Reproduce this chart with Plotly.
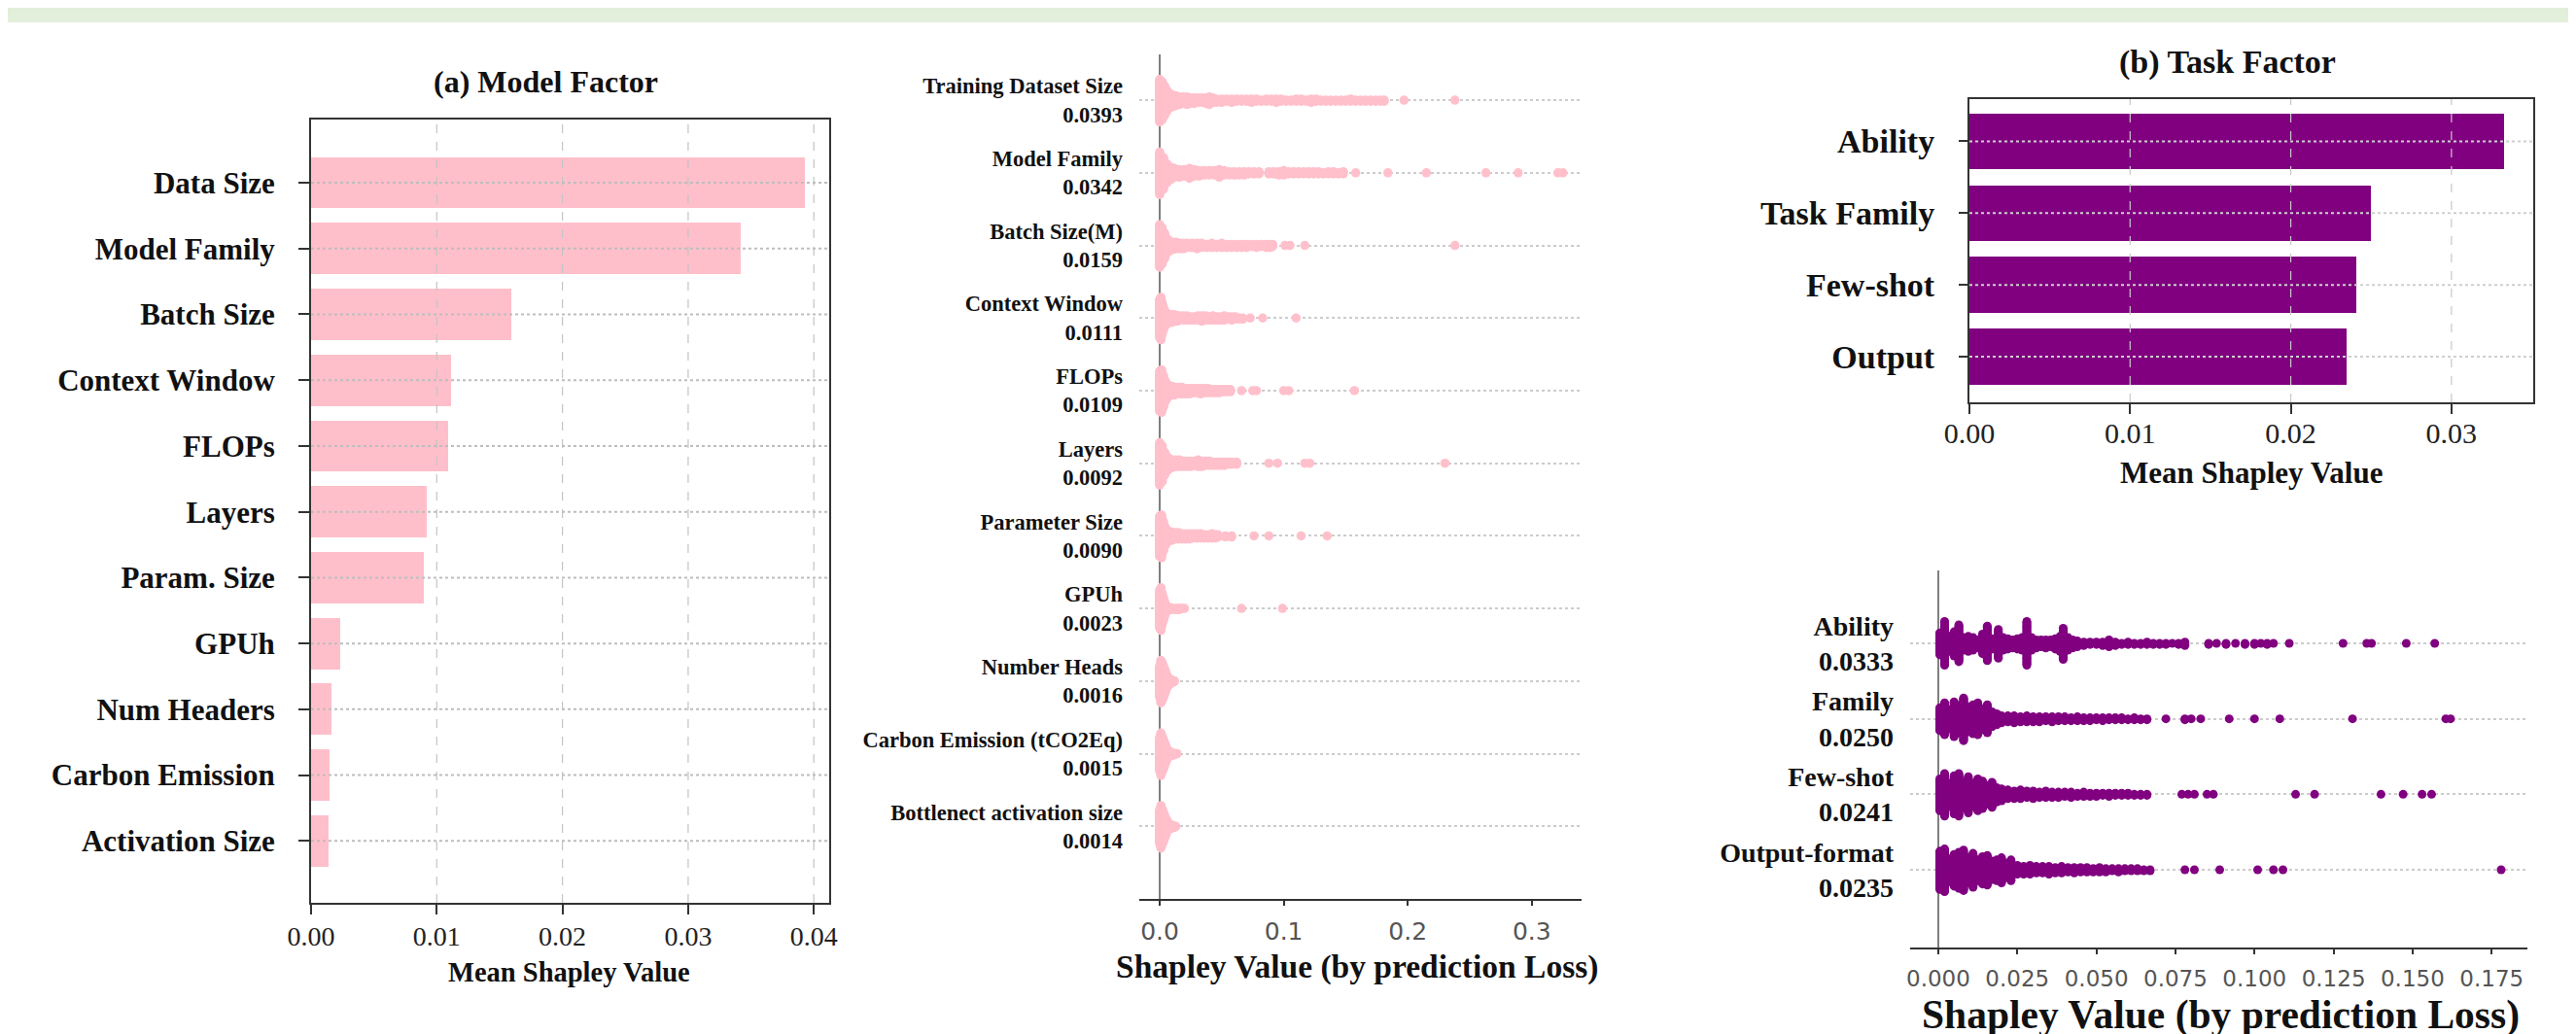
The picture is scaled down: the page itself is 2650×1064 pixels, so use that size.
import numpy as np
import plotly.graph_objects as go

W, H = 2650, 1064

# ---------------- data ----------------
# (a) Model factor - mean Shapley values
MODEL_LABELS = ["Data Size", "Model Family", "Batch Size", "Context Window", "FLOPs", "Layers",
                "Param. Size", "GPUh", "Num Headers", "Carbon Emission", "Activation Size"]
MODEL_VALUES = [0.0393, 0.0342, 0.0159, 0.0111, 0.0109, 0.0092, 0.0090, 0.0023, 0.0016, 0.0015, 0.0014]
MODEL_XTICKS = [0.00, 0.01, 0.02, 0.03, 0.04]
MODEL_XTICKTEXT = ["0.00", "0.01", "0.02", "0.03", "0.04"]

# (b) Task factor - mean Shapley values
TASK_LABELS = ["Ability", "Task Family", "Few-shot", "Output"]
TASK_VALUES = [0.0333, 0.0250, 0.0241, 0.0235]
TASK_XTICKS = [0.00, 0.01, 0.02, 0.03]
TASK_XTICKTEXT = ["0.00", "0.01", "0.02", "0.03"]

# middle beeswarm (model factors): feature name, mean value, (shapley value, number of samples)
SWM_LABELS = ["Training Dataset Size", "Model Family", "Batch Size(M)", "Context Window", "FLOPs",
              "Layers", "Parameter Size", "GPUh", "Number Heads", "Carbon Emission (tCO2Eq)",
              "Bottlenect activation size"]
SWM_MEANS = ["0.0393", "0.0342", "0.0159", "0.0111", "0.0109", "0.0092", "0.0090", "0.0023",
             "0.0016", "0.0015", "0.0014"]
SWM_XTICKS = [0.0, 0.1, 0.2, 0.3]
SWM_XTICKTEXT = ["0.0", "0.1", "0.2", "0.3"]

ROW_TDS = [(0.000, 40), (0.002, 36), (0.004, 28), (0.006, 20), (0.008, 14), (0.010, 12), (0.013, 10),
           (0.016, 8), (0.019, 7), (0.022, 8), (0.025, 6), (0.028, 6), (0.031, 5), (0.034, 5), (0.037, 6),
           (0.040, 8), (0.043, 5), (0.046, 4), (0.050, 4), (0.054, 3), (0.058, 4), (0.062, 3), (0.066, 3),
           (0.070, 3), (0.074, 4), (0.078, 3), (0.082, 2), (0.086, 3), (0.090, 3), (0.094, 4), (0.098, 3),
           (0.102, 2), (0.106, 2), (0.110, 3), (0.114, 3), (0.118, 2), (0.122, 4), (0.126, 3), (0.130, 2),
           (0.134, 2), (0.138, 2), (0.142, 2), (0.146, 2), (0.150, 2), (0.154, 3), (0.158, 2), (0.162, 2),
           (0.166, 2), (0.170, 2), (0.174, 2), (0.178, 2), (0.181, 2), (0.197, 1), (0.238, 1)]
ROW_MF = [(0.000, 40), (0.003, 30), (0.006, 18), (0.009, 12), (0.012, 9), (0.016, 8), (0.020, 7),
          (0.024, 10), (0.028, 7), (0.032, 6), (0.036, 5), (0.040, 5), (0.044, 5), (0.048, 8), (0.052, 5),
          (0.056, 4), (0.060, 4), (0.064, 4), (0.068, 4), (0.072, 3), (0.076, 3), (0.080, 3), (0.088, 3),
          (0.092, 3), (0.096, 4), (0.100, 5), (0.104, 3), (0.108, 3), (0.112, 3), (0.116, 3), (0.120, 3),
          (0.124, 3), (0.128, 3), (0.132, 2), (0.136, 3), (0.140, 3), (0.144, 2), (0.148, 3), (0.158, 1),
          (0.184, 1), (0.215, 1), (0.263, 1), (0.289, 1), (0.321, 1), (0.325, 1)]
ROW_BS = [(0.000, 40), (0.002, 34), (0.004, 24), (0.006, 14), (0.008, 10), (0.010, 8), (0.013, 7),
          (0.016, 6), (0.019, 6), (0.022, 5), (0.026, 5), (0.030, 6), (0.034, 5), (0.038, 4), (0.042, 5),
          (0.046, 4), (0.050, 5), (0.054, 4), (0.058, 4), (0.062, 4), (0.066, 4), (0.070, 4), (0.074, 3),
          (0.078, 4), (0.082, 3), (0.086, 4), (0.089, 4), (0.091, 3), (0.101, 1), (0.105, 1), (0.117, 1),
          (0.238, 1)]
ROW_CW = [(0.000, 36), (0.001, 40), (0.002, 30), (0.003, 22), (0.004, 16), (0.005, 12), (0.006, 10),
          (0.008, 8), (0.010, 8), (0.012, 7), (0.014, 6), (0.016, 5), (0.019, 5), (0.022, 5), (0.025, 4),
          (0.028, 4), (0.031, 5), (0.034, 6), (0.037, 5), (0.040, 4), (0.043, 5), (0.046, 4), (0.049, 4),
          (0.052, 5), (0.055, 3), (0.058, 4), (0.061, 3), (0.064, 2), (0.067, 2), (0.073, 1), (0.083, 1),
          (0.110, 1)]
ROW_FL = [(0.000, 38), (0.0015, 40), (0.003, 30), (0.0045, 20), (0.006, 14), (0.008, 10), (0.010, 9),
          (0.012, 8), (0.015, 7), (0.018, 7), (0.021, 6), (0.024, 6), (0.027, 5), (0.030, 5), (0.033, 6),
          (0.036, 5), (0.039, 5), (0.042, 4), (0.045, 4), (0.048, 4), (0.051, 3), (0.054, 3), (0.057, 3),
          (0.066, 1), (0.075, 1), (0.078, 1), (0.100, 1), (0.104, 1), (0.157, 1)]
ROW_LY = [(0.000, 40), (0.002, 34), (0.004, 22), (0.006, 14), (0.008, 10), (0.010, 8), (0.013, 7),
          (0.016, 7), (0.019, 6), (0.022, 6), (0.025, 6), (0.028, 5), (0.031, 7), (0.034, 6), (0.037, 5),
          (0.040, 5), (0.043, 4), (0.046, 4), (0.049, 4), (0.052, 4), (0.055, 3), (0.058, 3), (0.062, 3),
          (0.088, 1), (0.095, 1), (0.117, 1), (0.121, 1), (0.230, 1)]
ROW_PS = [(0.000, 38), (0.0015, 40), (0.003, 28), (0.0045, 18), (0.006, 12), (0.008, 9), (0.010, 8),
          (0.012, 7), (0.015, 7), (0.018, 6), (0.021, 6), (0.024, 6), (0.027, 5), (0.030, 5), (0.033, 5),
          (0.036, 4), (0.039, 4), (0.042, 5), (0.045, 4), (0.047, 3), (0.053, 2), (0.058, 2), (0.076, 1),
          (0.088, 1), (0.114, 1), (0.135, 1)]
ROW_GP = [(0.000, 36), (0.001, 40), (0.002, 30), (0.003, 22), (0.004, 14), (0.005, 8), (0.006, 5),
          (0.008, 3), (0.010, 2), (0.012, 2), (0.014, 2), (0.016, 2), (0.018, 1), (0.020, 1), (0.066, 1),
          (0.099, 1)]
ROW_NH = [(0.000, 30), (0.001, 40), (0.002, 36), (0.003, 30), (0.004, 24), (0.005, 18), (0.006, 12),
          (0.007, 8), (0.008, 6), (0.009, 4), (0.010, 3), (0.011, 2), (0.012, 1)]
ROW_CE = [(0.000, 32), (0.001, 40), (0.002, 34), (0.003, 28), (0.004, 22), (0.005, 16), (0.006, 10),
          (0.007, 7), (0.008, 5), (0.009, 4), (0.010, 3), (0.011, 2), (0.012, 2), (0.013, 1), (0.014, 1)]
ROW_BA = [(0.000, 32), (0.001, 40), (0.002, 34), (0.003, 28), (0.004, 22), (0.005, 16), (0.006, 11),
          (0.007, 7), (0.008, 5), (0.009, 4), (0.010, 3), (0.011, 2), (0.012, 2), (0.013, 1)]
SWM_ROWS = [ROW_TDS, ROW_MF, ROW_BS, ROW_CW, ROW_FL, ROW_LY, ROW_PS, ROW_GP, ROW_NH, ROW_CE, ROW_BA]

# bottom-right beeswarm (task factors)
SWT_LABELS = ["Ability", "Family", "Few-shot", "Output-format"]
SWT_MEANS = ["0.0333", "0.0250", "0.0241", "0.0235"]
SWT_XTICKS = [0.0, 0.025, 0.05, 0.075, 0.1, 0.125, 0.15, 0.175]
SWT_XTICKTEXT = ["0.000", "0.025", "0.050", "0.075", "0.100", "0.125", "0.150", "0.175"]

ROW_AB = [(0.0005, 20), (0.002, 39), (0.0035, 14), (0.005, 22), (0.0065, 33), (0.008, 12), (0.0095, 14),
          (0.011, 12), (0.0125, 8), (0.014, 18), (0.0155, 31), (0.017, 10), (0.019, 26), (0.0205, 12),
          (0.022, 10), (0.0235, 8), (0.025, 10), (0.0265, 12), (0.028, 39), (0.0295, 12), (0.031, 8),
          (0.0325, 7), (0.034, 8), (0.0355, 7), (0.037, 10), (0.0385, 14), (0.0395, 28), (0.041, 12),
          (0.0425, 8), (0.044, 6), (0.046, 4), (0.048, 3), (0.050, 3), (0.052, 4), (0.054, 7), (0.056, 4),
          (0.058, 2), (0.060, 3), (0.062, 2), (0.064, 2), (0.066, 3), (0.068, 2), (0.070, 2), (0.072, 2),
          (0.074, 1), (0.076, 2), (0.078, 4), (0.0855, 2), (0.088, 1), (0.091, 2), (0.094, 1), (0.097, 2),
          (0.100, 2), (0.102, 1), (0.104, 2), (0.106, 1), (0.111, 1), (0.128, 1), (0.1355, 1), (0.137, 1),
          (0.148, 1), (0.157, 1)]
ROW_FA = [(0.0005, 24), (0.002, 33), (0.0035, 20), (0.005, 36), (0.0065, 28), (0.008, 44), (0.0095, 26),
          (0.011, 30), (0.0125, 33), (0.014, 22), (0.0155, 29), (0.017, 16), (0.0185, 12), (0.020, 8),
          (0.022, 7), (0.024, 8), (0.026, 6), (0.028, 7), (0.030, 6), (0.032, 6), (0.034, 5), (0.036, 6),
          (0.038, 5), (0.040, 5), (0.042, 4), (0.044, 5), (0.046, 4), (0.048, 4), (0.050, 3), (0.052, 4),
          (0.054, 3), (0.056, 3), (0.058, 3), (0.060, 2), (0.062, 3), (0.064, 2), (0.066, 2), (0.072, 1),
          (0.078, 2), (0.080, 1), (0.083, 1), (0.092, 1), (0.100, 1), (0.108, 1), (0.131, 1), (0.1605, 1),
          (0.162, 1)]
ROW_FS = [(0.0005, 30), (0.002, 40), (0.0035, 22), (0.005, 36), (0.0065, 40), (0.008, 24), (0.0095, 34),
          (0.011, 22), (0.0125, 30), (0.014, 26), (0.0155, 18), (0.017, 24), (0.0185, 14), (0.020, 12),
          (0.022, 9), (0.024, 8), (0.026, 9), (0.028, 7), (0.030, 8), (0.032, 6), (0.034, 7),
          (0.036, 6), (0.038, 6), (0.040, 5), (0.042, 6), (0.044, 4), (0.046, 5), (0.048, 4), (0.050, 4),
          (0.052, 3), (0.054, 4), (0.056, 3), (0.058, 3), (0.060, 3), (0.062, 2), (0.064, 2), (0.066, 2),
          (0.077, 1), (0.079, 1), (0.081, 1), (0.085, 1), (0.087, 1), (0.113, 1), (0.119, 1), (0.140, 1),
          (0.147, 1), (0.153, 1), (0.156, 1)]
ROW_OF = [(0.0005, 36), (0.002, 40), (0.0035, 22), (0.005, 30), (0.0065, 34), (0.008, 38), (0.0095, 24),
          (0.011, 32), (0.0125, 20), (0.014, 26), (0.0155, 28), (0.017, 18), (0.0185, 20), (0.020, 24),
          (0.0215, 14), (0.023, 20), (0.025, 9), (0.027, 8), (0.029, 9), (0.031, 7), (0.033, 7),
          (0.035, 8), (0.037, 6), (0.039, 7), (0.041, 5), (0.043, 6), (0.045, 5), (0.047, 5), (0.049, 4),
          (0.051, 5), (0.053, 4), (0.055, 3), (0.057, 4), (0.059, 3), (0.061, 3), (0.063, 3), (0.065, 2),
          (0.067, 2), (0.078, 1), (0.081, 1), (0.089, 1), (0.101, 1), (0.106, 1), (0.109, 1), (0.178, 1)]
SWT_ROWS = [ROW_AB, ROW_FA, ROW_FS, ROW_OF]


# ---------------- helpers ----------------
def px(x):
    return x / W


def py(y):
    return 1 - y / H


def swarm(rows, spread):
    """SHAP-style stacking: samples sharing a value are stacked alternately above/below the row."""
    xs, ys = [], []
    for i, row in enumerate(rows):
        maxlayer = max(int(np.ceil((n - 1) / 2)) for _, n in row)
        step = spread / max(maxlayer, 1)
        for x, n in row:
            for k in range(n):
                off = np.ceil(k / 2) * (1 if k % 2 == 1 else -1)
                xs.append(x)
                ys.append(i + off * step)
    return xs, ys


SERIF = "Liberation Serif"
SANS = "DejaVu Sans"
INK = "#111111"

fig = go.Figure()

# (a) bars
fig.add_trace(go.Bar(x=MODEL_VALUES, y=MODEL_LABELS, orientation="h", width=0.78,
                     marker=dict(color="#ffbfca", line=dict(width=0)), xaxis="x", yaxis="y",
                     showlegend=False))
# (b) bars
fig.add_trace(go.Bar(x=TASK_VALUES, y=TASK_LABELS, orientation="h", width=0.78,
                     marker=dict(color="#800080", line=dict(width=0)), xaxis="x3", yaxis="y3",
                     showlegend=False))
# middle swarm
mx, my = swarm(SWM_ROWS, 0.30)
fig.add_trace(go.Scatter(x=mx, y=my, mode="markers", xaxis="x2", yaxis="y2", showlegend=False,
                         marker=dict(size=9.5, color="#ffc0cb", line=dict(width=0))))
# bottom-right swarm
tx, ty = swarm(SWT_ROWS, 0.29)
fig.add_trace(go.Scatter(x=tx, y=ty, mode="markers", xaxis="x4", yaxis="y4", showlegend=False,
                         marker=dict(size=9, color="#800080", line=dict(width=0))))

frame = dict(showline=True, mirror=True, linecolor="#333333", linewidth=2, showgrid=False, zeroline=False,
             automargin=False)

layout = dict(
    width=W, height=H, autosize=False,
    margin=dict(l=0, r=0, t=0, b=0, pad=0),
    paper_bgcolor="white", plot_bgcolor="white",
    bargap=0,
    # (a)
    xaxis=dict(domain=[px(312), px(845)], range=[0, 0.04122], anchor="y",
               tickmode="array", tickvals=MODEL_XTICKS, ticktext=MODEL_XTICKTEXT,
               ticks="outside", ticklen=10, tickwidth=2, tickcolor="#333333",
               tickfont=dict(family=SERIF, size=28, color="#222222"), ticklabelstandoff=-2, **frame),
    yaxis=dict(domain=[py(921), py(115)], type="category", categoryorder="array",
               categoryarray=MODEL_LABELS, range=[10.94, -0.96], anchor="x",
               ticks="outside", ticklen=11, tickwidth=2, tickcolor="#333333",
               tickfont=dict(family=SERIF, size=31, color=INK, weight="bold"), ticklabelstandoff=18,
               **frame),
    # middle swarm
    xaxis2=dict(domain=[px(1164), px(1619)], range=[-0.01646, 0.3401], anchor="y2",
                tickmode="array", tickvals=SWM_XTICKS, ticktext=SWM_XTICKTEXT,
                ticks="outside", ticklen=5, tickwidth=1.5, tickcolor="#333333",
                tickfont=dict(family=SANS, size=25, color="#555555"), ticklabelstandoff=5,
                showline=True, linecolor="#333333", linewidth=2, showgrid=False, automargin=False,
                zeroline=True, zerolinecolor="#808080", zerolinewidth=2),
    yaxis2=dict(domain=[py(917), py(48)], range=[11.0, -0.63], anchor="x2",
                tickmode="array", tickvals=list(range(len(SWM_LABELS))),
                ticktext=[f"{a}<br>{b}" for a, b in zip(SWM_LABELS, SWM_MEANS)],
                ticks="", showline=False, zeroline=False, automargin=False,
                showgrid=True, gridcolor="#cccccc", gridwidth=1.5, griddash="dot",
                tickfont=dict(family=SERIF, size=22.5, color=INK, weight="bold"), ticklabelstandoff=16),
    # (b)
    xaxis3=dict(domain=[px(2018), px(2598)], range=[0, 0.03509], anchor="y3",
                tickmode="array", tickvals=TASK_XTICKS, ticktext=TASK_XTICKTEXT,
                ticks="outside", ticklen=10, tickwidth=2, tickcolor="#333333",
                tickfont=dict(family=SERIF, size=30, color="#222222"), ticklabelstandoff=-6, **frame),
    yaxis3=dict(domain=[py(406), py(94)], type="category", categoryorder="array",
                categoryarray=TASK_LABELS, range=[3.637, -0.589], anchor="x3",
                ticks="outside", ticklen=9, tickwidth=2, tickcolor="#333333",
                tickfont=dict(family=SERIF, size=34, color=INK, weight="bold"), ticklabelstandoff=18,
                **frame),
    # bottom-right swarm
    xaxis4=dict(domain=[px(1957), px(2592)], range=[-0.0089, 0.1863], anchor="y4",
                tickmode="array", tickvals=SWT_XTICKS, ticktext=SWT_XTICKTEXT,
                ticks="outside", ticklen=5, tickwidth=1.5, tickcolor="#333333",
                tickfont=dict(family=SANS, size=23, color="#555555"), ticklabelstandoff=5,
                showline=True, linecolor="#333333", linewidth=2, showgrid=False, automargin=False,
                zeroline=True, zerolinecolor="#808080", zerolinewidth=2),
    yaxis4=dict(domain=[py(967), py(579)], range=[4.03, -0.965], anchor="x4",
                tickmode="array", tickvals=list(range(len(SWT_LABELS))),
                ticktext=[f"{a}<br>{b}" for a, b in zip(SWT_LABELS, SWT_MEANS)],
                ticks="", showline=False, zeroline=False, automargin=False,
                showgrid=True, gridcolor="#cccccc", gridwidth=1.5, griddash="dot",
                tickfont=dict(family=SERIF, size=28, color=INK, weight="bold"), ticklabelstandoff=16),
)

shapes = [dict(type="rect", xref="paper", yref="paper", x0=0, x1=1, y0=py(15), y1=1,
               fillcolor="#e2efda", line=dict(width=0), layer="below")]
# grid lines of the bar panels (drawn above the bars, as in the reference)
for v in MODEL_XTICKS[1:]:
    shapes.append(dict(type="line", xref="x", yref="y domain", x0=v, x1=v, y0=0, y1=1,
                       line=dict(color="#c4c4c4", width=1.2, dash="dash"), layer="above"))
for lab in MODEL_LABELS:
    shapes.append(dict(type="line", xref="x domain", yref="y", x0=0, x1=1, y0=lab, y1=lab,
                       line=dict(color="#bdbdbd", width=2, dash="dot"), layer="above"))
for v in TASK_XTICKS[1:]:
    shapes.append(dict(type="line", xref="x3", yref="y3 domain", x0=v, x1=v, y0=0, y1=1,
                       line=dict(color="#c8c8c8", width=1.2, dash="dash"), layer="above"))
for lab in TASK_LABELS:
    shapes.append(dict(type="line", xref="x3 domain", yref="y3", x0=0, x1=1, y0=lab, y1=lab,
                       line=dict(color="#cfcfcf", width=2, dash="dot"), layer="above"))
layout["shapes"] = shapes


def ann(text, x, y, size):
    return dict(text=text, x=px(x), y=py(y), xref="paper", yref="paper", showarrow=False,
                xanchor="center", yanchor="middle",
                font=dict(family=SERIF, size=size, color=INK, weight="bold"))


layout["annotations"] = [
    ann("(a) Model Factor", 553, 76, 32),
    ann("Mean Shapley Value", 577, 992, 28.5),
    ann("(b) Task Factor", 2283, 56, 34),
    ann("Mean Shapley Value", 2308, 478, 31),
    ann("Shapley Value (by prediction Loss)", 1388, 987, 33.5),
    ann("Shapley Value (by prediction Loss)", 2276, 1036, 41.5),
]

fig.update_layout(**layout)
fig.write_html("out.html")
